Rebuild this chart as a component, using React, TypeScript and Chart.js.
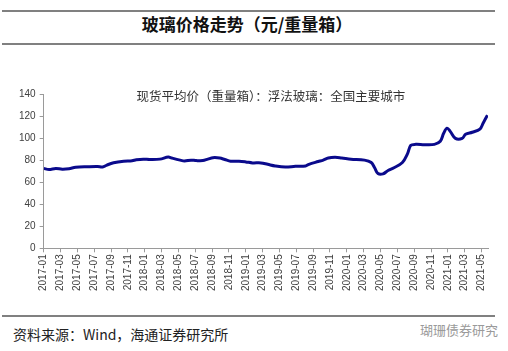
import React, { useEffect, useRef } from "react";
import { Chart, registerables } from "chart.js";

Chart.register(...registerables);

const TITLE = "玻璃价格走势（元/重量箱）";
const SERIES_NAME = "现货平均价（重量箱）：浮法玻璃：全国主要城市";
const SOURCE = "资料来源：Wind，海通证券研究所";
const WATERMARK = "瑚珊债券研究";

const dates: string[] = [
  "2017-01-01", "2017-01-20", "2017-02-14", "2017-03-07", "2017-04-01", "2017-04-25",
  "2017-06-07", "2017-07-13", "2017-08-01", "2017-08-16", "2017-09-10", "2017-10-16",
  "2017-11-16", "2017-12-01", "2017-12-26", "2018-01-19", "2018-02-25", "2018-03-25",
  "2018-04-07", "2018-05-07", "2018-05-23", "2018-06-16", "2018-07-04", "2018-07-28",
  "2018-08-16", "2018-09-04", "2018-09-28", "2018-10-16", "2018-11-07", "2018-12-07",
  "2019-01-01", "2019-01-25", "2019-02-25", "2019-03-19", "2019-04-16", "2019-05-22",
  "2019-06-28", "2019-08-04", "2019-08-16", "2019-09-19", "2019-10-07", "2019-10-25",
  "2019-11-19", "2019-12-13", "2020-01-16", "2020-03-04", "2020-03-28", "2020-04-10",
  "2020-04-22", "2020-05-10", "2020-05-28", "2020-06-19", "2020-07-19", "2020-08-07",
  "2020-08-19", "2020-09-07", "2020-10-07", "2020-11-13", "2020-12-04", "2020-12-16",
  "2020-12-28", "2021-01-10", "2021-01-28", "2021-02-22", "2021-03-04", "2021-03-28",
  "2021-04-25", "2021-05-07", "2021-05-22",
];

const prices: number[] = [
  72.5, 71.5, 72.5, 71.8, 72.2, 73.5,
  74.0, 74.2, 73.7, 75.5, 77.6, 79.0,
  79.4, 80.3, 80.9, 80.6, 80.9, 82.8,
  81.9, 80.0, 79.3, 80.0, 79.6, 79.6,
  80.9, 82.2, 81.9, 80.6, 79.0, 79.0,
  78.4, 77.5, 77.5, 76.2, 74.7, 73.7,
  74.4, 74.7, 76.2, 78.7, 80.0, 81.9,
  82.5, 81.9, 80.9, 80.0, 77.8, 73.1,
  67.8, 67.5, 70.6, 73.1, 77.8, 85.6,
  93.4, 94.3, 94.0, 94.3, 97.1, 104.4,
  109.0, 105.9, 99.7, 99.7, 103.4, 105.3,
  108.1, 113.7, 120.8,
];

const tickLabels: string[] = [
  "2017-01", "2017-03", "2017-05", "2017-07", "2017-09", "2017-11",
  "2018-01", "2018-03", "2018-05", "2018-07", "2018-09", "2018-11",
  "2019-01", "2019-03", "2019-05", "2019-07", "2019-09", "2019-11",
  "2020-01", "2020-03", "2020-05", "2020-07", "2020-09", "2020-11",
  "2021-01", "2021-03", "2021-05",
];

const yTicks: number[] = [0, 20, 40, 60, 80, 100, 120, 140];

const X_END = "2021-05-24";

function monthOffset(d: string): number {
  const [y, m, day] = d.split("-").map(Number);
  return (y - 2017) * 12 + (m - 1) + (day - 1) / 30;
}

const seriesLabelPlugin = {
  id: "seriesLabel",
  afterDraw(chart: any) {
    const { ctx, chartArea } = chart;
    ctx.save();
    ctx.font = '12.5px "Noto Sans CJK SC"';
    ctx.fillStyle = "#333333";
    ctx.textAlign = "center";
    ctx.textBaseline = "middle";
    ctx.fillText(chart.data.datasets[0].label, (chartArea.left + chartArea.right) / 2 + 5, chartArea.top + 2);
    ctx.restore();
  },
};

export default function App() {
  const ref = useRef<HTMLCanvasElement>(null);

  useEffect(() => {
    if (!ref.current) return;
    const points = dates.map((d, i) => ({ x: monthOffset(d), y: prices[i] }));
    const tickValues = tickLabels.map((t) => monthOffset(t + "-01"));
    const chart = new Chart(ref.current, {
      type: "line",
      data: {
        datasets: [
          {
            label: SERIES_NAME,
            data: points,
            borderColor: "#0a0a8c",
            borderWidth: 3,
            pointRadius: 0,
            tension: 0.35,
            fill: false,
          },
        ],
      },
      options: {
        animation: false,
        responsive: false,
        maintainAspectRatio: false,
        layout: { padding: { left: 15, right: 10, top: 10, bottom: 16 } },
        plugins: {
          legend: { display: false },
          tooltip: { enabled: false },
          title: { display: false },
        },
        scales: {
          x: {
            type: "linear",
            min: 0,
            max: monthOffset(X_END),
            afterBuildTicks: (scale: any) => {
              scale.ticks = tickValues.map((v) => ({ value: v }));
            },
            grid: {
              display: true,
              drawOnChartArea: false,
              drawTicks: true,
              tickLength: 4,
              color: "#9a9a9a",
            },
            border: { display: true, color: "#9a9a9a", width: 1 },
            ticks: {
              autoSkip: false,
              maxRotation: 90,
              minRotation: 90,
              padding: 2,
              color: "#404040",
              font: { family: '"Liberation Sans", Arial', size: 10 },
              callback: (v: any) => {
                const idx = tickValues.findIndex((t) => Math.abs(t - Number(v)) < 1e-6);
                return idx >= 0 ? tickLabels[idx] : "";
              },
            },
          },
          y: {
            type: "linear",
            min: 0,
            max: 140,
            afterBuildTicks: (scale: any) => {
              scale.ticks = yTicks.map((v) => ({ value: v }));
            },
            grid: {
              display: true,
              drawOnChartArea: false,
              drawTicks: true,
              tickLength: 4,
              color: "#9a9a9a",
            },
            border: { display: true, color: "#9a9a9a", width: 1 },
            ticks: {
              padding: 4,
              color: "#404040",
              font: { family: '"Liberation Sans", Arial', size: 10 },
            },
          },
        },
      },
      plugins: [seriesLabelPlugin],
    });
    return () => chart.destroy();
  }, []);

  const cjk = '"Noto Sans CJK SC", "Noto Sans", sans-serif';

  return (
    <div
      style={{
        position: "fixed",
        left: 0,
        top: 0,
        width: 508,
        height: 351,
        background: "#ffffff",
        overflow: "hidden",
        fontFamily: cjk,
      }}
    >
      <div style={{ position: "absolute", left: 2, top: 10, width: 493, height: 2, background: "#808080" }} />
      <div
        style={{
          position: "absolute",
          left: 0,
          top: 13,
          width: 494,
          height: 22,
          lineHeight: "22px",
          textAlign: "center",
          fontSize: 17,
          fontWeight: 700,
          color: "#111111",
        }}
      >
        {TITLE}
      </div>
      <div style={{ position: "absolute", left: 2, top: 43, width: 493, height: 2, background: "#808080" }} />
      <canvas
        ref={ref}
        width={498}
        height={225}
        style={{ position: "absolute", left: 0, top: 84, width: 498, height: 225 }}
      />
      <div style={{ position: "absolute", left: 2, top: 315, width: 493, height: 2, background: "#808080" }} />
      <div
        style={{
          position: "absolute",
          left: 13,
          top: 325,
          height: 18,
          lineHeight: "18px",
          fontSize: 14,
          color: "#222222",
          whiteSpace: "nowrap",
        }}
      >
        {SOURCE}
      </div>
      <div
        style={{
          position: "absolute",
          left: 420,
          top: 321,
          height: 18,
          lineHeight: "18px",
          fontSize: 13,
          color: "#9a9a9a",
          whiteSpace: "nowrap",
        }}
      >
        {WATERMARK}
      </div>
    </div>
  );
}
